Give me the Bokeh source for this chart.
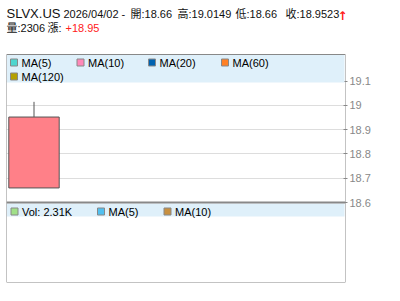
from bokeh.plotting import figure
from bokeh.models import Range1d, FixedTicker, Label, BoxAnnotation, ColumnDataSource, Span
from bokeh.embed import file_html
from bokeh.resources import INLINE

# ---- data ----
symbol = "SLVX.US"
dates = ["2026/04/02"]
opens = [18.66]
highs = [19.0149]
lows = [18.66]
closes = [18.9523]
volumes = [2306]
changes = [18.95]
price_ticks = [18.6, 18.7, 18.8, 18.9, 19.0, 19.1]
price_tick_labels = ["18.6", "18.7", "18.8", "18.9", "19", "19.1"]
price_ma_labels = ["MA(5)", "MA(10)", "MA(20)", "MA(60)", "MA(120)"]
price_ma_colors = ["#4fd6cf", "#ff88b8", "#0062b0", "#ff8024", "#b4a000"]
vol_labels = ["Vol: %.2fK" % (volumes[-1] / 1000.0), "MA(5)", "MA(10)"]
vol_colors = ["#a0e088", "#50c0f0", "#c89040"]

FONT = "'Liberation Sans', 'Noto Sans CJK TC'"
GRAY = "#888888"
BAND = "#dff0fa"

W, H = 400, 301
FL, FR = 6, 345            # frame left/right (canvas px)
FB = 282                   # frame bottom (canvas px); frame top = 0
P1_TOP, SPLIT = 54, 202    # price panel top / price-volume split
PX_PER_UNIT = 242.6

x_idx = list(range(len(dates)))
src = ColumnDataSource(dict(x=x_idx, open=opens, high=highs, low=lows, close=closes,
                            top=[max(o, c) for o, c in zip(opens, closes)],
                            bottom=[min(o, c) for o, c in zip(opens, closes)]))

unit = 63.0
x0 = -(33.5 - FL) / unit
xr = Range1d(x0, x0 + (FR - FL) / unit)
base = price_ticks[0]
yr = Range1d(base - (FB - SPLIT) / PX_PER_UNIT, base + SPLIT / PX_PER_UNIT)

p = figure(width=W, height=H, x_range=xr, y_range=yr,
           output_backend="svg", toolbar_location=None,
           x_axis_location=None, y_axis_location="right",
           min_border_left=FL, min_border_right=W - FR,
           min_border_top=0, min_border_bottom=H - FB)
p.outline_line_color = None
p.background_fill_color = "white"
p.border_fill_color = "white"
p.xgrid.visible = False
p.ygrid.grid_line_color = "#dddddd"
p.ygrid.ticker = FixedTicker(ticks=price_ticks)
ax = p.yaxis[0]
ax.ticker = FixedTicker(ticks=price_ticks)
ax.major_label_overrides = {t: l for t, l in zip(price_ticks, price_tick_labels)}
ax.axis_line_color = None
ax.major_tick_line_color = GRAY
ax.major_tick_in = 2
ax.major_tick_out = 2
ax.minor_tick_line_color = None
ax.major_label_text_color = GRAY
ax.major_label_text_font = "Liberation Sans"
ax.major_label_text_font_size = "11px"
ax.major_label_standoff = 2

p.segment(x0="x", y0="top", x1="x", y1="high", source=src, line_color="#555555", line_width=1)
p.segment(x0="x", y0="low", x1="x", y1="bottom", source=src, line_color="#555555", line_width=1)
p.vbar(x="x", width=0.8, top="top", bottom="bottom", source=src,
       fill_color="#ff8088", line_color="#555555", line_width=1)


def add_text(cx, cy, text, size="11px", color="#111111", bold=False, font=FONT):
    p.add_layout(Label(x=cx - FL, y=FB - cy, x_units="screen", y_units="screen",
                       text=text, text_font=font, text_font_size=size,
                       text_color=color, text_baseline="middle", text_align="left",
                       text_font_style="bold" if bold else "normal"))


def add_box(x0, y0, x1, y1, fill, line=None, lw=1):
    p.add_layout(BoxAnnotation(left=x0 - FL, right=x1 - FL, top=FB - y0, bottom=FB - y1,
                               left_units="screen", right_units="screen",
                               top_units="screen", bottom_units="screen",
                               fill_color=fill, fill_alpha=1.0 if fill else 0.0,
                               line_color=line, line_alpha=1.0 if line else 0.0,
                               line_width=lw, level="annotation"))


# title lines
o, h, l, c = opens[-1], highs[-1], lows[-1], closes[-1]
up = c >= o
add_text(6, 13, symbol, size="13px")
add_text(63, 13.5, dates[-1] + " -")
add_text(130, 13.5, "開:%g" % o)
add_text(177, 13.5, "高:%g" % h)
add_text(235, 13.5, "低:%g" % l)
add_text(285, 13.5, "收:%g" % c)
add_text(337, 15.5, "↑" if up else "↓", size="12px", color="#ff2020", bold=True,
         font="DejaVu Sans")
add_text(6, 27, "量:%d" % volumes[-1])
add_text(47, 27, "漲:")
add_text(65, 27, "%+.2f" % changes[-1], color="#ff2020")

# price legend band
add_box(FL, P1_TOP + 0.5, FR - 1, 82, BAND)
ma_pos = [(10, 62), (76.5, 62), (148, 62), (221, 62), (10, 76)]
for (sx, sy), lab, col in zip(ma_pos, price_ma_labels, price_ma_colors):
    add_box(sx, sy - 3.5, sx + 7, sy + 3.5, col, GRAY)
    add_text(sx + 11, sy + 0.5, lab, color="#000000")

# volume legend band
add_box(FL, SPLIT + 1, FR - 1, 216, BAND)
vol_pos = [(10.5, 211), (97, 211), (163.5, 211)]
for (sx, sy), lab, col in zip(vol_pos, vol_labels, vol_colors):
    add_box(sx, sy - 3.5, sx + 7, sy + 3.5, col, GRAY)
    add_text(sx + 11, sy + 0.5, lab, color="#000000")

# panel frames and split line
add_box(FL, P1_TOP, FR, FB, None, GRAY)
p.add_layout(Span(location=base, dimension="width", line_color=GRAY, line_width=2))

open("out.html", "w").write(file_html(p, INLINE))
